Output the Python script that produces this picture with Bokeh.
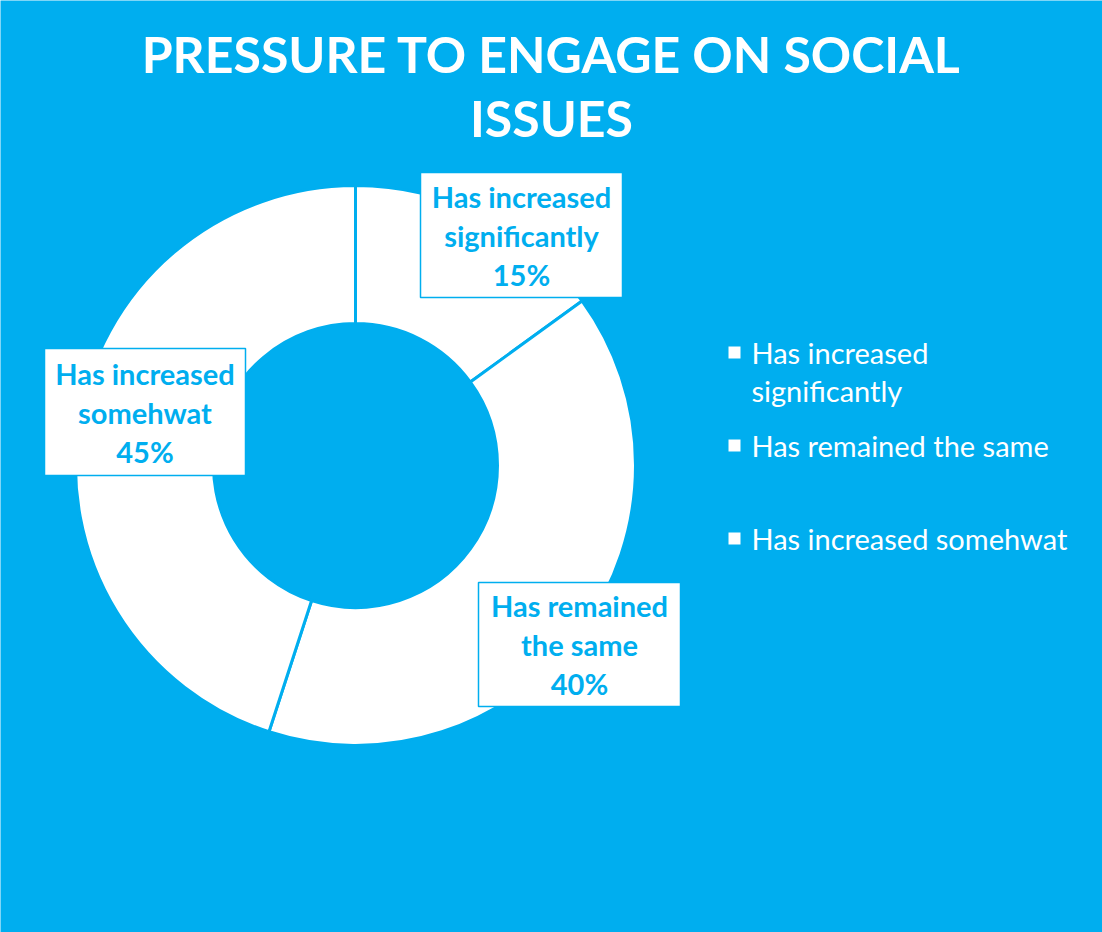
import math
from bokeh.plotting import figure
from bokeh.models import Range1d
from bokeh.core.properties import value
from bokeh.embed import file_html
from bokeh.resources import INLINE

# ---- data ----
title_lines = ["PRESSURE TO ENGAGE ON SOCIAL", "ISSUES"]
categories = ["Has increased significantly", "Has remained the same", "Has increased somehwat"]
shares = [15, 40, 45]
label_wrapped = [["Has increased", "significantly"], ["Has remained", "the same"], ["Has increased", "somehwat"]]
legend_wrapped = [["Has increased", "significantly"], ["Has remained the same"], ["Has increased somehwat"]]

BG = "#00AEEF"
W, H = 1102, 932
FONT = "Lato"

p = figure(width=W, height=H, x_range=Range1d(0, W), y_range=Range1d(0, H),
           output_backend="svg", toolbar_location=None, min_border=0)
p.axis.visible = False
p.grid.visible = False
p.outline_line_color = None
p.background_fill_color = BG
p.border_fill_color = BG

def Y(py):
    return H - py

# ---- donut ----
cx, cy = 355, Y(465)
total = sum(shares)
starts, ends = [], []
cum = 0
for s in shares:
    a_end = math.pi / 2 - 2 * math.pi * cum / total
    cum += s
    a_start = math.pi / 2 - 2 * math.pi * cum / total
    starts.append(a_start)
    ends.append(a_end)

p.annular_wedge(x=[cx] * len(shares), y=[cy] * len(shares), inner_radius=142, outer_radius=280,
                start_angle=starts, end_angle=ends, fill_color="white",
                line_color=BG, line_width=3)

# ---- title ----
for i, t in enumerate(title_lines):
    p.text(x=[W / 2], y=[Y(53 + 64 * i)], text=[t], text_color="white",
           text_font=value(FONT), text_font_style="bold", text_font_size="50px",
           text_align="center", text_baseline="middle")

# ---- data labels (boxes) ----
boxes = [(420, 172, 622, 297), (478, 582, 680, 706), (44, 348, 245, 475)]
for (x0, y0, x1, y1), lines, s in zip(boxes, label_wrapped, shares):
    p.quad(left=[x0], right=[x1], top=[Y(y0)], bottom=[Y(y1)], fill_color="white",
           line_color=BG, line_width=1.5)
    all_lines = lines + [f"{s}%"]
    xc = (x0 + x1) / 2
    yc = (y0 + y1) / 2
    for j, t in enumerate(all_lines):
        p.text(x=[xc], y=[Y(yc + (j - 1) * 39)], text=[t], text_color=BG,
               text_font=value(FONT), text_font_style="bold", text_font_size="29px",
               text_align="center", text_baseline="middle")

# ---- legend ----
leg_y = [352, 445, 538]
for yy, lines in zip(leg_y, legend_wrapped):
    p.rect(x=[734], y=[Y(yy)], width=12, height=12, fill_color="white", line_color=None)
    for j, t in enumerate(lines):
        p.text(x=[751], y=[Y(yy + 38 * j)], text=[t], text_color="white",
               text_font=value(FONT), text_font_size="29px",
               text_align="left", text_baseline="middle")

open("out.html", "w").write(file_html(p, INLINE))
